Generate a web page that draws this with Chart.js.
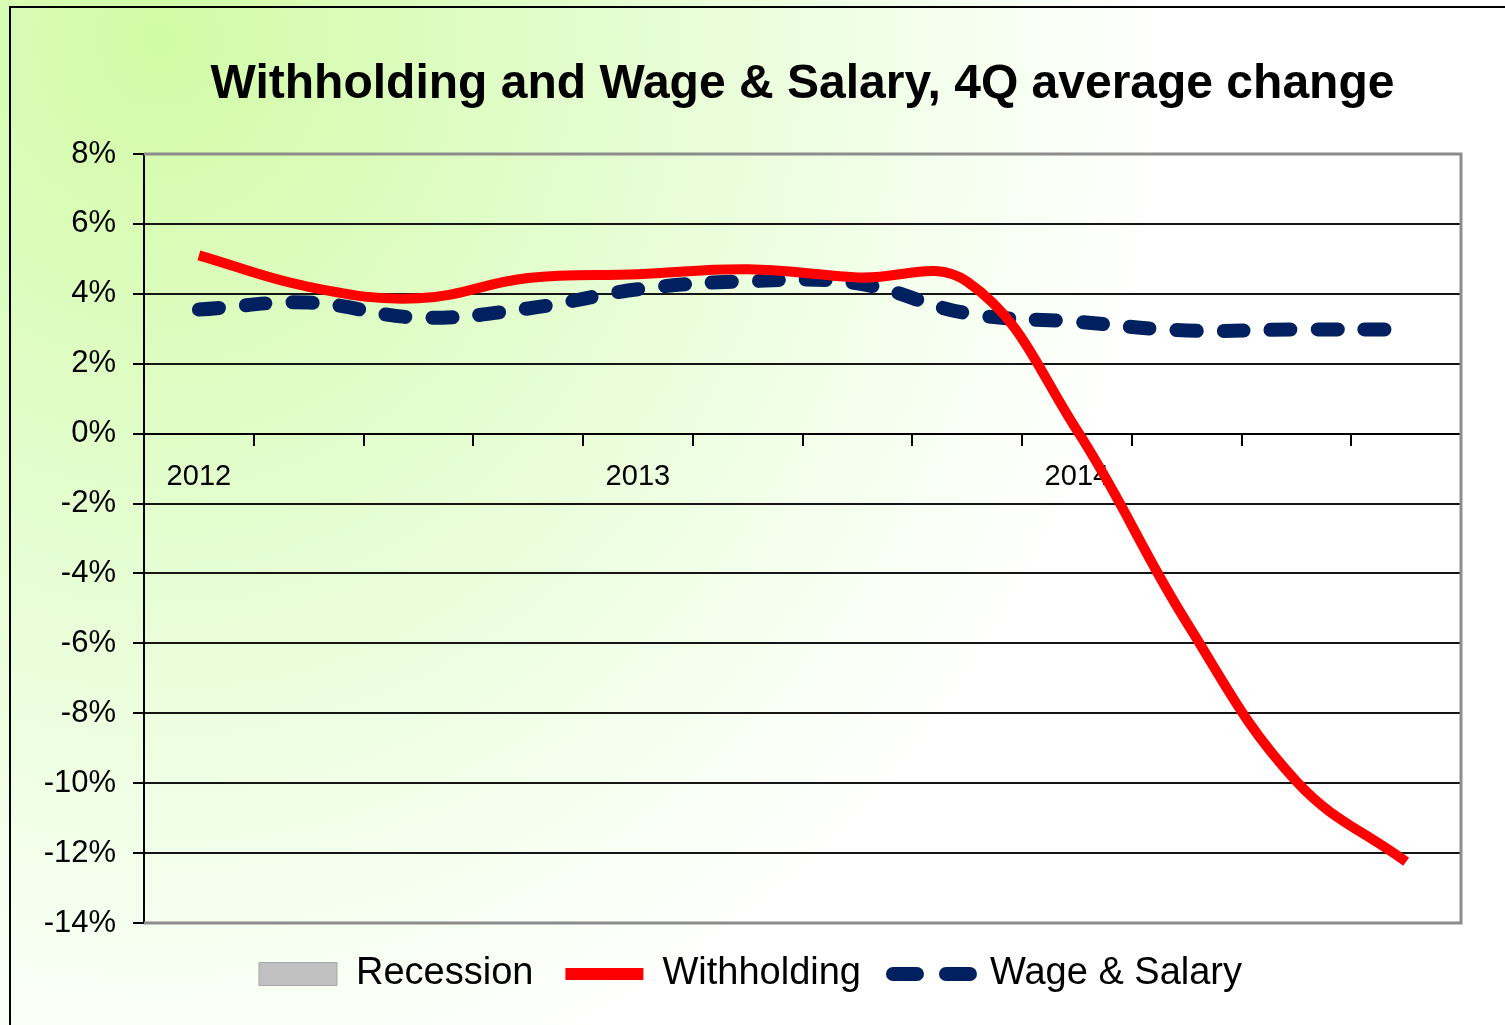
<!DOCTYPE html>
<html>
<head>
<meta charset="utf-8">
<title>Withholding and Wage &amp; Salary, 4Q average change</title>
<script src="https://cdn.jsdelivr.net/npm/chart.js"></script>
<style>
    html, body { margin: 0; padding: 0; }
    body {
        width: 1505px; height: 1025px; overflow: hidden; position: relative;
        background: radial-gradient(ellipse 1150px 1250px at 160px 40px, #d2fba6 0%, #e2fdcb 35%, #f2ffea 65%, #ffffff 88%);
    }
    .frame { position: absolute; left: 9px; top: 6px; right: -10px; bottom: -10px; border-left: 2px solid #000; border-top: 2px solid #000; }
    .wrap { position: absolute; left: 0; top: 0; width: 1505px; height: 1025px; }
</style>
</head>
<body>
<div class="frame"></div>
<div class="wrap"><canvas id="chart"></canvas></div>
<script>
// quarterly, 2012Q1 .. 2014Q4
const quarters = ['2012', '', '', '', '2013', '', '', '', '2014', '', '', ''];
const withholding = [5.1, 4.2, 3.87, 4.45, 4.56, 4.7, 4.47, 4.35, 0.1, -5.4, -9.95, -12.25];
const wageSalary = [3.55, 3.75, 3.32, 3.58, 4.13, 4.36, 4.3, 3.44, 3.2, 2.95, 2.98, 2.98];
const recession = [null, null, null, null, null, null, null, null, null, null, null, null]; // no recession in window
const yMin = -14, yMax = 8, yStep = 2;

const FONT = '"Liberation Sans", Arial, sans-serif';

// gray frame on top/right/bottom of plot area
const plotFrame = {
    id: 'plotFrame',
    beforeDatasetsDraw(chart) {
        const { ctx, chartArea: a } = chart;
        ctx.save();
        ctx.strokeStyle = '#8c8c8c';
        ctx.lineWidth = 3;
        ctx.beginPath();
        ctx.moveTo(a.left, a.top);
        ctx.lineTo(a.right, a.top);
        ctx.lineTo(a.right, a.bottom);
        ctx.lineTo(a.left, a.bottom);
        ctx.stroke();
        ctx.restore();
    }
};

new Chart(document.getElementById('chart'), {
    data: {
        labels: quarters,
        datasets: [
            {
                type: 'bar', label: 'Recession', data: recession,
                backgroundColor: '#c0c0c0', borderColor: '#a6a6a6',
                legendStyle: 'rect', legendLine: 1
            },
            {
                type: 'line', label: 'Withholding', data: withholding,
                borderColor: '#ff0000', backgroundColor: '#ff0000',
                borderWidth: 10, tension: 0.4, pointRadius: 0, borderCapStyle: 'butt',
                legendStyle: 'line', legendLine: 12
            },
            {
                type: 'line', label: 'Wage & Salary', data: wageSalary,
                borderColor: '#002060', backgroundColor: '#002060',
                borderWidth: 14, borderDash: [20, 27], borderCapStyle: 'round',
                tension: 0.4, pointRadius: 0,
                legendStyle: 'line', legendLine: 14, legendDash: [24, 29], legendCap: 'round'
            }
        ]
    },
    options: {
        responsive: true,
        maintainAspectRatio: false,
        animation: false,
        layout: { padding: { left: 40, right: 44, top: 0, bottom: 22 } },
        scales: {
            x: {
                position: { y: 0 },
                offset: true,
                grid: { offset: true, drawOnChartArea: false, drawTicks: true, tickLength: 11, color: '#000', lineWidth: 2 },
                border: { display: true, color: '#000', width: 2 },
                ticks: { autoSkip: false, maxRotation: 0, color: '#000', font: { family: FONT, size: 29 }, padding: 15 }
            },
            y: {
                min: yMin,
                max: yMax,
                ticks: {
                    stepSize: yStep,
                    color: '#000',
                    font: { family: FONT, size: 31 },
                    padding: 17,
                    callback: v => v + '%'
                },
                grid: {
                    color: c => (c.tick && (c.tick.value === yMax || c.tick.value === yMin)) ? 'rgba(0,0,0,0)' : '#151515',
                    lineWidth: 2,
                    tickLength: 11,
                    tickColor: '#000'
                },
                border: { color: '#000', width: 2 },
                afterFit: s => { s.width = 104; }
            }
        },
        plugins: {
            title: {
                display: true,
                fullSize: false,
                text: 'Withholding and Wage & Salary, 4Q average change',
                color: '#000',
                font: { family: FONT, size: 48, weight: 'bold', lineHeight: 1.2 },
                padding: { top: 56, bottom: 40.4 }
            },
            legend: {
                position: 'bottom',
                labels: {
                    usePointStyle: true,
                    pointStyleWidth: 78,
                    boxHeight: 23,
                    padding: 32,
                    color: '#000',
                    font: { family: FONT, size: 38 },
                    generateLabels: chart => chart.data.datasets.map((ds, i) => ({
                        text: ds.label,
                        datasetIndex: i,
                        fillStyle: ds.backgroundColor,
                        strokeStyle: ds.borderColor,
                        lineWidth: ds.legendLine,
                        lineDash: ds.legendDash || [],
                        lineCap: ds.legendCap || 'butt',
                        pointStyle: ds.legendStyle,
                        fontColor: '#000',
                        hidden: false
                    }))
                }
            },
            tooltip: { enabled: false }
        }
    },
    plugins: [plotFrame]
});
</script>
</body>
</html>
